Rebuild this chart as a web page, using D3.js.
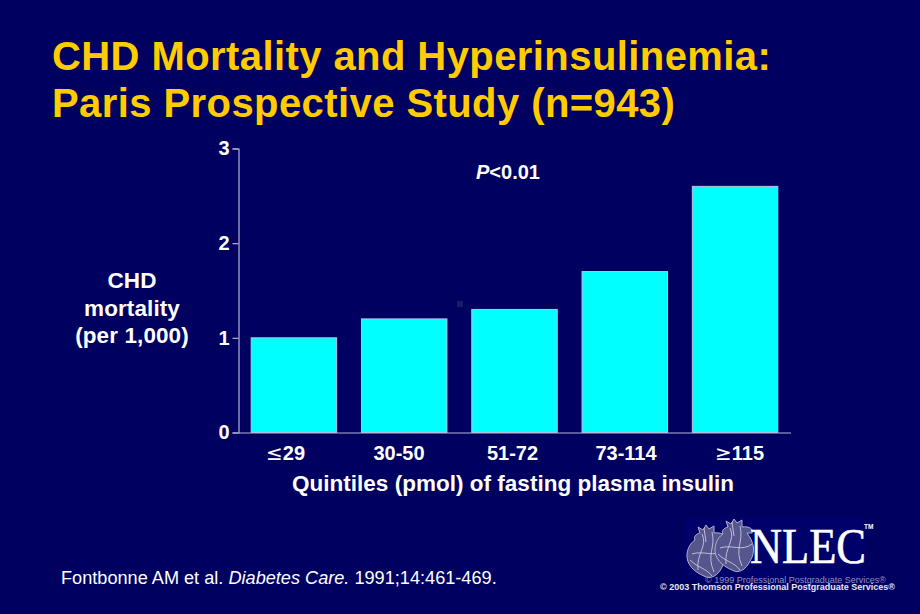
<!DOCTYPE html>
<html><head><meta charset="utf-8">
<script src="https://cdn.jsdelivr.net/npm/d3@7/dist/d3.min.js"></script>
<style>html,body{margin:0;padding:0;background:#000060}svg{display:block}text{font-family:"Liberation Sans",Arial,sans-serif}</style>
</head><body><svg id="c" width="920" height="614"></svg>
<script>
const categories=["≤29","30-50","51-72","73-114","≥115"];
const mortality=[1.0,1.2,1.3,1.7,2.6];
const yTicks=[0,1,2,3];
const titleLines=["CHD Mortality and Hyperinsulinemia:","Paris Prospective Study (n=943)"];
const yLabelLines=["CHD","mortality","(per 1,000)"];
const xLabel="Quintiles (pmol) of fasting plasma insulin";

const svg=d3.select("#c");
svg.append("rect").attr("width",920).attr("height",614).attr("fill","#000060");

svg.selectAll("text.title").data(titleLines).join("text").attr("class","title")
  .attr("x",52).attr("y",(d,i)=>70+i*47).attr("fill","#ffcc00")
  .attr("font-size",40).attr("letter-spacing",0.42).attr("font-weight","bold").text(d=>d);

const x=d3.scaleBand().domain(categories).range([238.5,790.5]).paddingInner(0.225).paddingOuter(0.115);
const y=d3.scaleLinear().domain([0,3]).range([432.5,148.5]);
// the reference's category labels are spaced a little wider than its bars
const xLabels=d3.scalePoint().domain(categories).range([285,739]);

svg.selectAll("rect.bar").data(mortality).join("rect").attr("class","bar")
  .attr("x",(d,i)=>x(categories[i])).attr("width",x.bandwidth())
  .attr("y",d=>y(d)).attr("height",d=>y(0)-y(d))
  .attr("fill","#00ffff").attr("stroke","#b8c4e0").attr("stroke-width",1);

const axisColor="#b4b4d8";
const gy=svg.append("g").attr("transform","translate(238.5,0)")
  .call(d3.axisLeft(y).tickValues(yTicks).tickSize(6).tickPadding(3).tickFormat(d3.format("d")));
const gx=svg.append("g").attr("transform","translate(0,432.5)")
  .call(d3.axisBottom(x).tickSize(0).tickPadding(13).tickFormat(""));
[gy,gx].forEach(g=>{
  g.selectAll("path,line").attr("stroke",axisColor).attr("stroke-width",1.2);
  g.selectAll("text").attr("fill","#fff").attr("font-size",20).attr("font-weight","bold")
   .attr("font-family",'"Liberation Sans",Arial,sans-serif');
});
svg.append("g").attr("transform","translate(0,432.5)")
  .call(d3.axisBottom(xLabels).tickSize(0).tickPadding(13))
  .call(g=>g.select("path").remove())
  .selectAll("text").attr("fill","#fff").attr("font-size",20).attr("font-weight","bold")
  .attr("font-family",'"Liberation Sans",Arial,sans-serif')
  .each(function(d){
    const t=d3.select(this);
    if(d[0]==="≤"||d[0]==="≥"){
      t.text(null);
      t.append("tspan").attr("font-family",'"DejaVu Sans",sans-serif').attr("font-weight","normal").text(d[0]);
      t.append("tspan").text(d.slice(1));
    }
  });

svg.selectAll("text.yl").data(yLabelLines).join("text").attr("class","yl")
  .attr("x",132).attr("y",(d,i)=>288+i*27.5).attr("text-anchor","middle")
  .attr("fill","#fff").attr("font-size",22.5).attr("letter-spacing",0.1).attr("font-weight","bold").text(d=>d);

svg.append("text").attr("x",513).attr("y",491).attr("text-anchor","middle")
  .attr("fill","#fff").attr("font-size",22.5).attr("letter-spacing",0.02).attr("font-weight","bold").text(xLabel);

const p=svg.append("text").attr("x",476).attr("y",179).attr("fill","#fff").attr("font-size",20).attr("font-weight","bold");
p.append("tspan").attr("font-style","italic").text("P");
p.append("tspan").text("<0.01");

svg.append("rect").attr("x",457).attr("y",301).attr("width",6).attr("height",6).attr("fill","#1a1a66");

const cite=svg.append("text").attr("x",61).attr("y",584).attr("fill","#fff").attr("font-size",18.15);
cite.append("tspan").text("Fontbonne AM et al. ");
cite.append("tspan").attr("font-style","italic").text("Diabetes Care.");
cite.append("tspan").text(" 1991;14:461-469.");

// logo
const logo=svg.append("g");
logo.append("rect").attr("x",685).attr("y",517).attr("width",181).attr("height",62).attr("fill","#00006a");
const heart="M14 9 L12 3 L17 6 L20 1 L23 5 L28 2 L28 9 C35 8 40 11 38 15 L33 15 C40 24 42 34 36 43 C32 52 24 56 18 52 C8 48 0 40 1 30 C2 22 6 18 9 16 C7 13 10 10 14 9 Z";
[[686,524],[714,518]].forEach(([hx,hy])=>{
  const h=logo.append("g").attr("transform",`translate(${hx},${hy})`);
  h.append("path").attr("d",heart).attr("fill","#56568e").attr("stroke","#b0b0cc").attr("stroke-width",1);
  h.append("path").attr("d","M16 10 C22 22 10 30 12 46 M26 8 C30 24 20 30 28 48 M6 30 C18 26 28 34 38 26 M18 4 L20 18 M4 36 C12 44 20 44 26 52")
    .attr("fill","none").attr("stroke","#c8c8dc").attr("stroke-width",0.9);
});
logo.append("text").attr("x",750).attr("y",563).attr("textLength",116).attr("lengthAdjust","spacingAndGlyphs")
  .attr("fill","#fff").attr("stroke","#fff").attr("stroke-width",0.6).attr("font-size",50).attr("style",'font-family:"Liberation Serif",serif').text("NLEC");
logo.append("text").attr("x",864).attr("y",529).attr("fill","#fff").attr("font-size",6.5).attr("font-weight","bold").text("TM");
logo.append("text").attr("x",705).attr("y",583).attr("fill","#8f8fc0").attr("font-size",9).text("© 1999 Professional Postgraduate Services®");
logo.append("text").attr("x",660).attr("y",590).attr("fill","#e8e8f4").attr("font-size",9).attr("font-weight","bold").text("© 2003 Thomson Professional Postgraduate Services®");
</script></body></html>
